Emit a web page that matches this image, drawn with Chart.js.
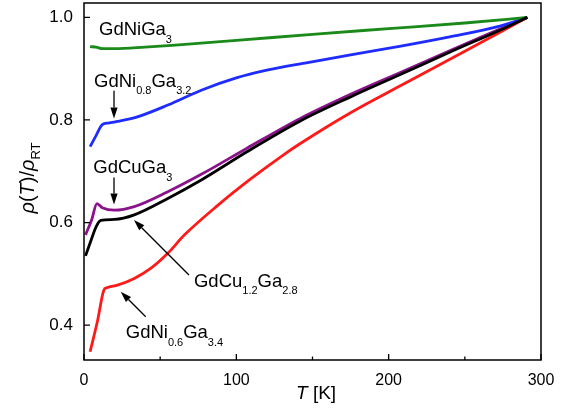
<!DOCTYPE html>
<html><head><meta charset="utf-8">
<script src="https://cdn.jsdelivr.net/npm/chart.js@4.4.1/dist/chart.umd.min.js"></script>
<style>html,body{margin:0;padding:0;background:#fff}</style>
</head><body>
<canvas id="c" width="581" height="416"></canvas>
<script>
// ---- axis ticks ----
const xTicks = [0, 100, 200, 300];
const xMinorTicks = [50, 150, 250];
const yTicks = [0.4, 0.6, 0.8, 1.0];
const xRange = [0, 300];
const yRange = [0.332, 1.028];

// ---- series (T in K, rho(T)/rho_RT) ----
const tGdNiGa3 = [4, 8, 12, 20, 40, 60, 100, 150, 200, 250, 291];
const rGdNiGa3 = [0.943, 0.942, 0.939, 0.939, 0.942, 0.946, 0.955, 0.967, 0.978, 0.989, 1.0];

const tGdNi08 = [4, 8, 12, 16, 22, 35, 55, 77, 100, 120, 145, 175, 208, 240, 273, 291];
const rGdNi08 = [0.748, 0.770, 0.791, 0.794, 0.797, 0.806, 0.829, 0.858, 0.882, 0.897, 0.911, 0.927, 0.944, 0.962, 0.983, 1.0];

const tGdCuGa3 = [1, 5, 8.5, 12, 20, 33, 55, 77, 107, 142, 175, 208, 240, 273, 291];
const rGdCuGa3 = [0.576, 0.605, 0.637, 0.629, 0.624, 0.631, 0.660, 0.694, 0.745, 0.803, 0.850, 0.893, 0.935, 0.977, 1.0];

const tGdCu12 = [1, 4, 8, 11, 20, 33, 55, 77, 107, 142, 175, 208, 240, 273, 291];
const rGdCu12 = [0.535, 0.560, 0.592, 0.604, 0.606, 0.615, 0.647, 0.683, 0.738, 0.798, 0.845, 0.889, 0.932, 0.975, 1.0];

const tGdNi06 = [4, 9, 13, 15, 22, 33, 44, 55, 66, 88, 109, 131, 142, 175, 208, 250, 291];
const rGdNi06 = [0.348, 0.41, 0.468, 0.473, 0.478, 0.491, 0.511, 0.540, 0.576, 0.634, 0.684, 0.732, 0.754, 0.814, 0.867, 0.934, 1.0];

// ---- annotation labels (data coords of text start/baseline) ----
const labels = [
  {T: 9.85, v: 0.9655, parts: [["GdNiGa", "n"], ["3", "s"]]},
  {T: 6.57, v: 0.8647, parts: [["GdNi", "n"], ["0.8", "s"], ["Ga", "n"], ["3.2", "s"]]},
  {T: 6.1,  v: 0.696,  parts: [["GdCuGa", "n"], ["3", "s"]]},
  {T: 72.2, v: 0.4749, parts: [["GdCu", "n"], ["1.2", "s"], ["Ga", "n"], ["2.8", "s"]]},
  {T: 27.4, v: 0.3743, parts: [["GdNi", "n"], ["0.6", "s"], ["Ga", "n"], ["3.4", "s"]]}
];
const arrows = [
  {T0: 19.7, v0: 0.857, T1: 19.7, v1: 0.803},
  {T0: 19.7, v0: 0.688, T1: 19.7, v1: 0.635},
  {T0: 68.9, v0: 0.4977, T1: 32.8, v1: 0.6049},
  {T0: 40.5, v0: 0.4164, T1: 24.1, v1: 0.4652}
];

const FONT = '"Liberation Sans", Arial, sans-serif';

function pts(t, r) { return t.map((x, i) => ({x: x, y: r[i]})); }
function ds(t, r, color) {
  return {data: pts(t, r), borderColor: color, backgroundColor: color, borderWidth: 2.8,
    pointRadius: 0, cubicInterpolationMode: 'monotone', fill: false};
}

function rich(ctx, parts, x, y, main, sub, subDy) {
  let cx = x;
  for (const p of parts) {
    const isSub = p[1] === 's';
    ctx.font = (p[1] === 'i' ? 'italic ' : '') + (isSub ? sub : main) + 'px ' + FONT;
    ctx.fillText(p[0], cx, y + (isSub ? subDy : 0));
    cx += ctx.measureText(p[0]).width;
  }
  return cx - x;
}
function richWidth(ctx, parts, main, sub) {
  let w = 0;
  for (const p of parts) {
    const isSub = p[1] === 's';
    ctx.font = (p[1] === 'i' ? 'italic ' : '') + (isSub ? sub : main) + 'px ' + FONT;
    w += ctx.measureText(p[0]).width;
  }
  return w;
}

const textDeco = {
  id: 'textDeco',
  afterDraw(chart) {
    const ctx = chart.ctx, xs = chart.scales.x, ys = chart.scales.y;
    ctx.save();
    ctx.fillStyle = '#000'; ctx.textBaseline = 'alphabetic'; ctx.textAlign = 'left';
    for (const l of labels) {
      rich(ctx, l.parts, xs.getPixelForValue(l.T), ys.getPixelForValue(l.v), 18.5, 11, 7.5);
    }
    ctx.strokeStyle = '#000'; ctx.lineWidth = 1.3;
    for (const ar of arrows) {
      const x0 = xs.getPixelForValue(ar.T0), y0 = ys.getPixelForValue(ar.v0);
      const x1 = xs.getPixelForValue(ar.T1), y1 = ys.getPixelForValue(ar.v1);
      const ang = Math.atan2(y1 - y0, x1 - x0), HL = 11, W = 3.6;
      const bx = x1 - HL * Math.cos(ang), by = y1 - HL * Math.sin(ang);
      ctx.beginPath(); ctx.moveTo(x0, y0); ctx.lineTo(bx, by); ctx.stroke();
      ctx.beginPath();
      ctx.moveTo(x1, y1);
      ctx.lineTo(bx + W * Math.sin(ang), by - W * Math.cos(ang));
      ctx.lineTo(bx - W * Math.sin(ang), by + W * Math.cos(ang));
      ctx.closePath(); ctx.fill();
    }
    rich(ctx, [["T", "i"], [" [K]", "n"]], 296, 399, 19, 12, 0);
    const yParts = [["\u03C1", "i"], ["(", "n"], ["T", "i"], [")/", "n"], ["\u03C1", "i"], ["RT", "s"]];
    const w = richWidth(ctx, yParts, 20, 13);
    ctx.translate(34, 178); ctx.rotate(-Math.PI / 2);
    rich(ctx, yParts, -w / 2, 0, 20, 13, 6);
    ctx.restore();
  }
};

const frameDeco = {
  id: 'frameDeco',
  afterDraw(chart) {
    const ctx = chart.ctx, xs = chart.scales.x, ys = chart.scales.y;
    const L = xs.getPixelForValue(xRange[0]), R = xs.getPixelForValue(xRange[1]);
    const T = ys.getPixelForValue(yRange[1]), B = ys.getPixelForValue(yRange[0]);
    ctx.save();
    ctx.strokeStyle = '#000'; ctx.lineWidth = 1.5;
    ctx.beginPath();
    ctx.moveTo(L, T); ctx.lineTo(R, T); ctx.lineTo(R, B); ctx.lineTo(L, B); ctx.closePath();
    ctx.stroke();
    ctx.lineWidth = 1.3;
    ctx.beginPath();
    for (const v of xTicks) { const px = xs.getPixelForValue(v); ctx.moveTo(px, B); ctx.lineTo(px, B - 6); }
    for (const v of xMinorTicks) { const px = xs.getPixelForValue(v); ctx.moveTo(px, B); ctx.lineTo(px, B - 3.5); }
    for (const v of yTicks) { const py = ys.getPixelForValue(v); ctx.moveTo(L, py); ctx.lineTo(L + 6, py); }
    ctx.stroke();
    ctx.restore();
  }
};

new Chart(document.getElementById('c'), {
  type: 'line',
  data: {
    datasets: [
      ds(tGdCu12, rGdCu12, '#000000'),
      ds(tGdNiGa3, rGdNiGa3, '#1a8a1a'),
      ds(tGdNi08, rGdNi08, '#1f2cff'),
      ds(tGdCuGa3, rGdCuGa3, '#8a138a'),
      ds(tGdNi06, rGdNi06, '#ff1a1a')
    ]
  },
  options: {
    responsive: false, animation: false, devicePixelRatio: 1,
    layout: {padding: {left: 0, top: 3, right: 40, bottom: 0}},
    plugins: {legend: {display: false}, tooltip: {enabled: false}},
    scales: {
      x: {
        type: 'linear', min: xRange[0], max: xRange[1],
        afterBuildTicks: s => { s.ticks = xTicks.map(v => ({value: v})); },
        afterFit: s => { s.height = 56; s.paddingLeft = 0; s.paddingRight = 0; },
        grid: {display: false, drawTicks: false}, border: {display: false},
        ticks: {padding: 11, color: '#000', font: {family: FONT, size: 16}, maxRotation: 0,
          callback: v => String(v)}
      },
      y: {
        type: 'linear', min: yRange[0], max: yRange[1],
        afterBuildTicks: s => { s.ticks = yTicks.map(v => ({value: v})); },
        afterFit: s => { s.width = 84; s.paddingTop = 0; s.paddingBottom = 0; },
        grid: {display: false, drawTicks: false}, border: {display: false},
        ticks: {padding: 11, color: '#000', font: {family: FONT, size: 17},
          callback: v => Number(v).toFixed(1)}
      }
    }
  },
  plugins: [textDeco, frameDeco]
});
</script>
</body></html>
